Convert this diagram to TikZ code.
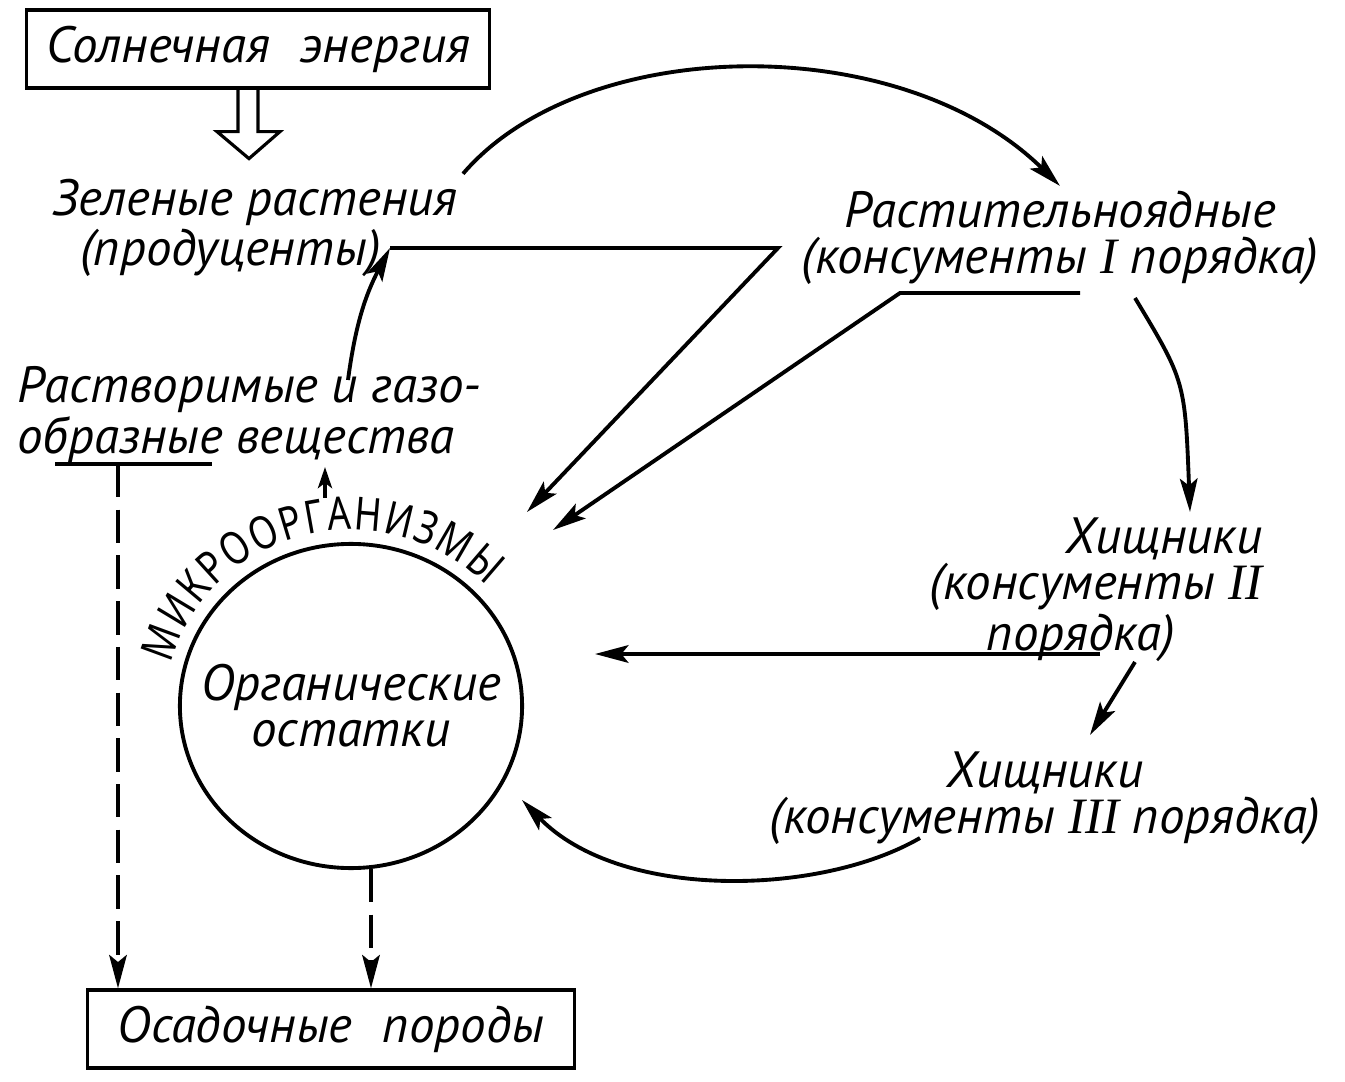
\documentclass[tikz,border=0pt]{standalone}
\usepackage{fontspec}
\setmainfont{PT Sans}
\newfontfamily\romnum{Liberation Serif}
\newfontfamily\microfont{Noto Sans}[FakeStretch=0.8]
\usetikzlibrary{positioning}
\usetikzlibrary{shapes.geometric}
\usetikzlibrary{arrows.meta}
\usetikzlibrary{decorations.text}

\begin{document}
\begin{tikzpicture}[x=0.01cm,y=0.01cm,line width=1.1pt,
txt/.style={align=center,inner sep=1pt,font=\fontsize{14.5}{13}\selectfont\itshape},
boxed/.style={txt,draw,line width=0.9pt,minimum height=0.78cm},
arr/.style={-{Stealth[length=9.5pt,width=5pt,inset=2pt]}},
smallarr/.style={-{Stealth[length=6pt,width=4pt,inset=1.5pt]}},
dasharr/.style={arr,dash pattern=on 9.5pt off 3.5pt}
]
\useasboundingbox (0,0) rectangle (1345,1081);
%--
\node[boxed,minimum width=4.63cm] (sun) at (258,1032) {Солнечная\hspace{0.6em}энергия};
\draw[line width=0.9pt] (sun.south) ++(-20,0) -- ++(0,-42) -- ++(-21,0) -- ++(32,-27) -- ++(31,27) -- ++(-22,0) -- ++(0,42);
%--
\node[txt] (plants) at (255,853) {Зеленые растения\\(продуценты)\rule{14pt}{0pt}};
\node[txt] (herb) at (1060,843) {Растительноядные\\(консументы {\romnum\itshape I} порядка)};
\node[txt,align=right,anchor=east] (pred2) at (1268,491) {Хищники\\(консументы {\romnum\itshape II}\\порядка)\rule{25pt}{0pt}};
\node[txt] (pred3) at (1045,283) {Хищники\\(консументы {\romnum\itshape III} порядка)};
\node[txt,align=left,anchor=west] (soluble) at (12,666) {Растворимые и газо-\\образные вещества};
%--
\node[draw,ellipse,minimum width=3.42cm,minimum height=3.24cm,inner sep=0pt] (micro) at (351,375) {};
\node[txt] (rest) at (micro.center) {Органические\\остатки};
\path[decorate,decoration={text along path,text align={fit to path},
  text={|\microfont\fontsize{13}{13}\selectfont|МИКРООРГАНИЗМЫ}}]
  (micro.center) ++(166:185 and 176) arc[start angle=166,end angle=43,x radius=185,y radius=176];
%--
\node[boxed,minimum width=4.87cm] (rocks) at (331,52) {Осадочные\hspace{0.6em}породы};
%--
\coordinate (pl1) at (390,833);
\coordinate (pl2) at (778,833);
\coordinate (tA) at (527,569);
\draw[arr] (plants.north east) .. controls +(120,140) and +(-160,157) .. (herb.north);
\draw[arr] (pl1) -- (pl2) -- (tA);
%--
\coordinate (hb1) at (1080,788);
\coordinate (hb2) at (900,788);
\coordinate (tB) at (553,551);
\draw[arr] (hb1) -- (hb2) -- (tB);
\coordinate (hb3) at (1135,783);
\coordinate (tC) at (1190,569);
\draw[arr] (hb3) .. controls (1185,700) .. (tC);
%--
\coordinate (p2a) at (1100,427);
\coordinate (tD) at (595,427);
\draw[arr] (p2a) -- (tD);
\coordinate (p2b) at (1135,419);
\coordinate (tE) at (1090,346);
\draw[arr] (p2b) -- (tE);
\coordinate (p3a) at (920,243);
\coordinate (tF) at (522,281);
\draw[arr] (p3a) .. controls (820,185) and (620,180) .. (tF);
%--
\coordinate (sl1) at (348,701);
\draw[arr] (sl1) to[bend left=10] (pl1);
\coordinate (mu1) at (325,583);
\coordinate (mu2) at (325,614);
\draw[smallarr] (mu1) -- (mu2);
%--
\coordinate (ul1) at (55,617);
\coordinate (ul2) at (212,617);
\coordinate (ul3) at (118,617);
\draw (ul1) -- (ul2);
\draw[dasharr] (ul3) -- (ul3 |- rocks.north);
\draw[dasharr] (micro.-83) -- (micro.-83 |- rocks.north);
\end{tikzpicture}
\end{document}
